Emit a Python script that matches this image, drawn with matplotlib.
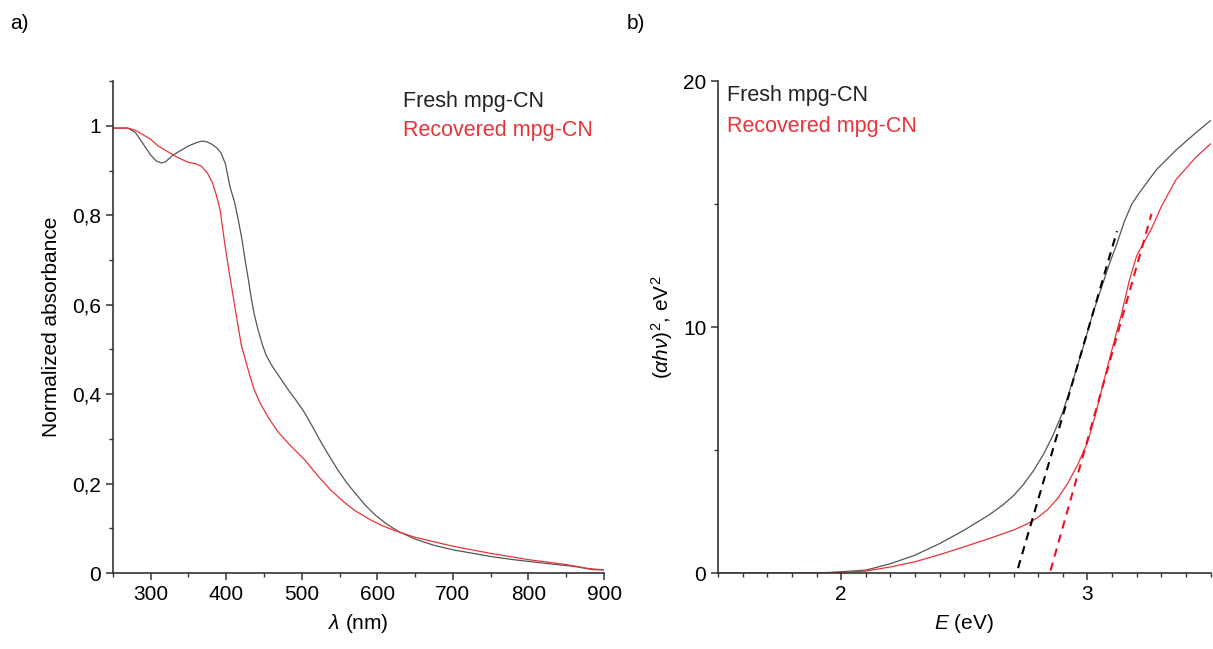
import numpy as np
import matplotlib.pyplot as plt
from matplotlib.ticker import MultipleLocator, FuncFormatter

plt.rcParams['font.family'] = ['Liberation Sans', 'DejaVu Sans']
plt.rcParams['mathtext.fontset'] = 'custom'
plt.rcParams['mathtext.rm'] = 'Liberation Sans'
plt.rcParams['mathtext.it'] = 'Liberation Sans:italic'

# a) normalized absorbance spectra
wl_fresh = [250, 270, 280, 290, 300, 307, 314, 320, 330, 340, 350, 360, 368, 375, 382, 388,
            393, 399, 405, 411, 416, 421, 425, 429, 433, 437, 442, 448, 453, 460, 468, 482, 493,
            504, 515, 526, 537, 548, 559, 570, 584, 597, 612, 628, 650, 675, 700, 727, 750,
            780, 800, 832, 860, 884, 900]
ab_fresh = [0.995, 0.995, 0.985, 0.96, 0.935, 0.922, 0.917, 0.92, 0.935, 0.945, 0.955, 0.962,
            0.966, 0.964, 0.958, 0.95, 0.94, 0.915, 0.864, 0.83, 0.79, 0.745, 0.70, 0.66,
            0.617, 0.58, 0.545, 0.51, 0.487, 0.465, 0.445, 0.41, 0.385, 0.358, 0.325, 0.291,
            0.26, 0.23, 0.203, 0.18, 0.152, 0.13, 0.11, 0.093, 0.076, 0.062, 0.052, 0.044,
            0.037, 0.03, 0.026, 0.02, 0.015, 0.008, 0.007]

wl_rec = [250, 270, 280, 290, 300, 310, 320, 335, 349, 360, 367, 375, 382, 387, 392, 398,
          405, 413, 420, 429, 437, 445, 455, 462, 469, 477, 485, 504, 520, 538, 555, 570, 590,
          605, 623, 650, 700, 750, 800, 850, 880, 900]
ab_rec = [0.995, 0.995, 0.99, 0.98, 0.97, 0.955, 0.945, 0.93, 0.919, 0.915, 0.91, 0.895,
          0.872, 0.845, 0.812, 0.738, 0.662, 0.58, 0.51, 0.455, 0.41, 0.38, 0.35, 0.332,
          0.315, 0.3, 0.285, 0.253, 0.22, 0.186, 0.16, 0.14, 0.12, 0.107, 0.095, 0.08, 0.06,
          0.044, 0.03, 0.019, 0.01, 0.007]

# b) Tauc plot
e_fresh = [1.5, 1.8, 1.95, 2.1, 2.2, 2.3, 2.4, 2.5, 2.6, 2.66, 2.7, 2.74, 2.78, 2.82, 2.86,
           2.9, 2.94, 2.98, 3.02, 3.09, 3.12, 3.15, 3.18, 3.21, 3.28, 3.36, 3.44, 3.5]
t_fresh = [0.0, 0.0, 0.02, 0.12, 0.38, 0.73, 1.2, 1.75, 2.36, 2.8, 3.15, 3.6, 4.15, 4.8, 5.6,
           6.55, 7.8, 9.1, 10.5, 12.6, 13.4, 14.3, 15.0, 15.45, 16.4, 17.2, 17.9, 18.4]
e_rec = [1.5, 1.8, 2.0, 2.1, 2.2, 2.3, 2.4, 2.5, 2.6, 2.7, 2.76, 2.8, 2.84, 2.88, 2.92, 2.96,
         3.0, 3.03, 3.065, 3.10, 3.14, 3.17, 3.2, 3.26, 3.3, 3.36, 3.44, 3.5]
t_rec = [0.0, 0.0, 0.03, 0.08, 0.25, 0.46, 0.75, 1.07, 1.4, 1.75, 2.02, 2.27, 2.6, 3.05, 3.65,
         4.4, 5.3, 6.35, 7.75, 9.1, 10.6, 11.9, 12.9, 14.0, 14.9, 16.0, 16.9, 17.45]

fit_e_fresh = [2.718, 3.12]
fit_t_fresh = [0.2, 13.9]
fit_e_rec = [2.85, 3.26]
fit_t_rec = [0.1, 14.6]

fig = plt.figure(figsize=(12.13, 6.49), dpi=100)
ax1 = fig.add_axes([0.093, 0.117, 0.405, 0.758])
ax2 = fig.add_axes([0.592, 0.117, 0.406, 0.758])

gray = '#555555'
red = '#e8333b'

ax1.plot(wl_fresh, ab_fresh, color=gray, lw=0.9)
ax1.plot(wl_rec, ab_rec, color=red, lw=0.9)
ax1.set_xlim(250, 900)
ax1.set_ylim(0, 1.1)
ax1.xaxis.set_major_locator(MultipleLocator(100))
ax1.xaxis.set_minor_locator(MultipleLocator(50))
ax1.yaxis.set_minor_locator(MultipleLocator(0.1))
ax1.set_yticks([0, 0.2, 0.4, 0.6, 0.8, 1.0])
ax1.yaxis.set_major_formatter(FuncFormatter(
    lambda v, p: '0' if v == 0 else ('1' if abs(v - 1) < 1e-9 else ('%.1f' % v).replace('.', ','))))
ax1.set_xlabel(r'$\lambda$ (nm)', fontsize=15, labelpad=6)
ax1.set_ylabel('Normalized absorbance', fontsize=15, labelpad=8)
ax1.text(0.59, 0.959, 'Fresh mpg-CN', transform=ax1.transAxes, fontsize=15.5,
         color='#222222', va='center')
ax1.text(0.59, 0.90, 'Recovered mpg-CN', transform=ax1.transAxes, fontsize=15.5,
         color=red, va='center')

ax2.plot(e_fresh, t_fresh, color=gray, lw=0.9)
ax2.plot(e_rec, t_rec, color=red, lw=0.9)
ax2.plot(fit_e_fresh, fit_t_fresh, color='black', lw=1.5, ls=(0, (4, 3)))
ax2.plot(fit_e_rec, fit_t_rec, color='#ee1122', lw=1.5, ls=(0, (4, 3)))
ax2.set_xlim(1.5, 3.5)
ax2.set_ylim(0, 20)
ax2.xaxis.set_major_locator(MultipleLocator(1))
ax2.xaxis.set_minor_locator(MultipleLocator(0.1))
ax2.yaxis.set_major_locator(MultipleLocator(10))
ax2.yaxis.set_minor_locator(MultipleLocator(5))
ax2.set_xlabel(r'$E$ (eV)', fontsize=15, labelpad=6)
ax2.set_ylabel(r'$(\alpha h\nu)^2$, eV$^2$', fontsize=15, labelpad=6)
ax2.text(0.018, 0.971, 'Fresh mpg-CN', transform=ax2.transAxes, fontsize=15.5,
         color='#222222', va='center')
ax2.text(0.018, 0.907, 'Recovered mpg-CN', transform=ax2.transAxes, fontsize=15.5,
         color=red, va='center')

for ax in (ax1, ax2):
    ax.spines['top'].set_visible(False)
    ax.spines['right'].set_visible(False)
    for s in ('left', 'bottom'):
        ax.spines[s].set_color('#333333')
        ax.spines[s].set_linewidth(1.2)
    ax.tick_params(which='major', direction='out', length=5, width=1.1, labelsize=15,
                   color='#333333')
    ax.tick_params(which='minor', direction='out', length=3, width=1, color='#333333')

fig.text(0.008, 0.955, 'a)', fontsize=15)
fig.text(0.517, 0.955, 'b)', fontsize=15)

plt.savefig('out.png', dpi=100)
